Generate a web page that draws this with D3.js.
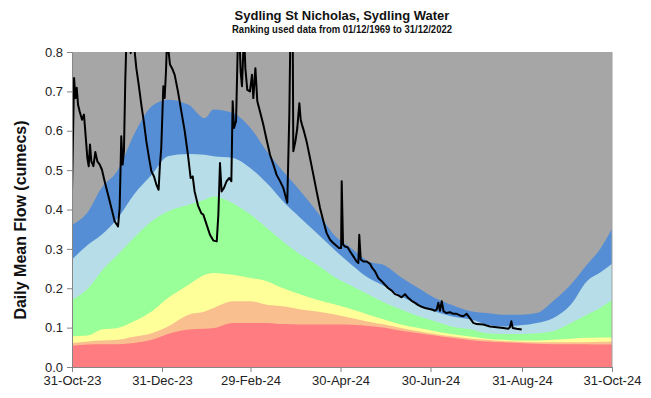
<!DOCTYPE html>
<html>
<head>
<meta charset="utf-8">
<script src="https://cdn.jsdelivr.net/npm/d3@7"></script>
<style>
  html, body { margin: 0; padding: 0; background: #fff; }
  svg { display: block; font-family: "Liberation Sans", Arial, sans-serif; }
</style>
</head>
<body>
<svg id="chart" width="651" height="398"></svg>
<script>
// ---------------- DATA ----------------
const startDate = "2023-10-31";
const endDate = "2024-10-31";
const title = "Sydling St Nicholas, Sydling Water";
const subtitle = "Ranking used data from 01/12/1969 to 31/12/2022";
const yLabel = "Daily Mean Flow (cumecs)";
const yTicks = [0, 0.1, 0.2, 0.3, 0.4, 0.5, 0.6, 0.7, 0.8];
const xTickDates = ["2023-10-31", "2023-12-31", "2024-02-29", "2024-04-30", "2024-06-30", "2024-08-31", "2024-10-31"];

// percentile band boundaries (days after start)
const bandDays = [0, 11, 20, 31, 42, 54, 65, 79, 90, 96, 109, 121, 132, 143, 155, 166, 179, 190, 201, 212, 223, 235, 246, 257, 271, 281, 292, 304, 315, 326, 338, 349, 358, 366];
const p05 = [0.054, 0.057, 0.058, 0.058, 0.061, 0.069, 0.084, 0.095, 0.097, 0.099, 0.112, 0.112, 0.112, 0.109, 0.108, 0.108, 0.108, 0.107, 0.104, 0.100, 0.092, 0.086, 0.080, 0.074, 0.068, 0.065, 0.063, 0.061, 0.059, 0.058, 0.058, 0.058, 0.057, 0.057];
const p13 = [0.061, 0.065, 0.067, 0.069, 0.077, 0.086, 0.103, 0.133, 0.141, 0.150, 0.167, 0.167, 0.158, 0.154, 0.146, 0.141, 0.133, 0.124, 0.115, 0.108, 0.099, 0.091, 0.084, 0.078, 0.072, 0.069, 0.066, 0.064, 0.063, 0.063, 0.063, 0.063, 0.064, 0.065];
const p28 = [0.078, 0.080, 0.095, 0.099, 0.116, 0.141, 0.175, 0.209, 0.234, 0.239, 0.234, 0.226, 0.218, 0.200, 0.184, 0.171, 0.158, 0.146, 0.133, 0.120, 0.108, 0.099, 0.091, 0.084, 0.077, 0.072, 0.069, 0.067, 0.067, 0.069, 0.072, 0.074, 0.075, 0.075];
const p72 = [0.171, 0.200, 0.243, 0.285, 0.328, 0.370, 0.395, 0.412, 0.425, 0.433, 0.416, 0.387, 0.353, 0.319, 0.285, 0.260, 0.226, 0.205, 0.184, 0.163, 0.146, 0.129, 0.116, 0.103, 0.095, 0.086, 0.084, 0.084, 0.086, 0.091, 0.112, 0.133, 0.150, 0.170];
const p87 = [0.273, 0.311, 0.336, 0.378, 0.438, 0.488, 0.535, 0.541, 0.539, 0.535, 0.531, 0.505, 0.467, 0.421, 0.378, 0.340, 0.294, 0.258, 0.226, 0.205, 0.180, 0.158, 0.141, 0.129, 0.120, 0.108, 0.103, 0.106, 0.112, 0.124, 0.158, 0.218, 0.240, 0.262];
const p95 = [0.361, 0.395, 0.455, 0.500, 0.590, 0.662, 0.679, 0.666, 0.632, 0.654, 0.645, 0.607, 0.548, 0.497, 0.446, 0.395, 0.330, 0.300, 0.268, 0.258, 0.228, 0.200, 0.175, 0.158, 0.141, 0.137, 0.133, 0.133, 0.137, 0.167, 0.209, 0.260, 0.300, 0.352];

// observed daily mean flow (days after start)
const flowDays = [0, 1.4, 2.3, 3.2, 4.1, 5.2, 6.8, 8.1, 9.0, 10.4, 11.3, 12.2, 13.1, 14.5, 15.8, 17.2, 18.8, 20.3, 22.1, 24.4, 26.7, 28.9, 31.2, 32.3, 33.4, 34.3, 35.2, 36.1, 37.1, 38.4, 39.8, 41.1, 42.5, 43.6, 45.2, 47.0, 48.8, 50.4, 52.2, 53.8, 55.6, 57.2, 58.7, 59.6, 60.5, 61.9, 62.8, 63.7, 64.6, 65.5, 66.4, 67.8, 69.6, 71.8, 74.1, 76.4, 78.6, 80.4, 81.8, 83.1, 85.4, 87.7, 89.0, 91.3, 93.5, 95.8, 98.1, 99.2, 100.3, 101.4, 103.0, 104.8, 106.6, 108.0, 108.9, 109.8, 111.2, 112.5, 113.4, 114.3, 115.2, 116.6, 117.5, 118.8, 120.6, 122.0, 122.9, 124.3, 125.6, 127.4, 129.7, 131.9, 134.2, 136.5, 138.7, 141.0, 143.2, 145.9, 147.3, 148.2, 149.6, 150.0, 151.4, 152.7, 154.1, 155.0, 155.9, 157.2, 159.0, 161.3, 163.6, 165.8, 168.1, 170.4, 172.6, 174.9, 177.1, 181.0, 182.4, 182.8, 183.7, 185.0, 186.8, 188.4, 190.7, 192.9, 194.1, 194.7, 195.7, 197.5, 199.7, 202.0, 203.6, 205.4, 207.6, 209.9, 212.1, 214.4, 216.7, 218.9, 221.2, 223.4, 225.7, 228.0, 230.2, 232.5, 234.7, 237.0, 239.3, 241.5, 243.8, 246.0, 247.2, 248.3, 249.4, 250.6, 251.9, 253.9, 256.2, 258.4, 260.7, 263.0, 265.2, 267.5, 269.7, 272.0, 274.3, 278.8, 283.3, 287.8, 292.3, 295.7, 296.8, 297.8, 298.7, 301.4, 304.8];
const flowValues = [0.446, 0.734, 0.683, 0.709, 0.666, 0.649, 0.628, 0.641, 0.599, 0.531, 0.510, 0.565, 0.522, 0.510, 0.546, 0.522, 0.514, 0.501, 0.472, 0.438, 0.404, 0.370, 0.357, 0.404, 0.586, 0.514, 0.548, 0.725, 0.860, 0.840, 0.797, 0.830, 0.800, 0.759, 0.717, 0.666, 0.620, 0.573, 0.531, 0.497, 0.484, 0.463, 0.450, 0.514, 0.556, 0.713, 0.683, 0.751, 0.850, 0.800, 0.768, 0.759, 0.742, 0.700, 0.649, 0.599, 0.539, 0.480, 0.484, 0.446, 0.410, 0.390, 0.387, 0.361, 0.336, 0.321, 0.319, 0.387, 0.518, 0.446, 0.455, 0.472, 0.480, 0.472, 0.675, 0.607, 0.624, 0.840, 0.850, 0.751, 0.713, 0.850, 0.759, 0.704, 0.700, 0.742, 0.683, 0.759, 0.675, 0.649, 0.615, 0.577, 0.539, 0.514, 0.488, 0.472, 0.455, 0.417, 0.641, 0.900, 0.850, 0.548, 0.573, 0.607, 0.670, 0.628, 0.615, 0.599, 0.573, 0.531, 0.488, 0.446, 0.404, 0.370, 0.340, 0.323, 0.315, 0.302, 0.302, 0.472, 0.311, 0.306, 0.304, 0.294, 0.281, 0.268, 0.264, 0.336, 0.273, 0.268, 0.268, 0.262, 0.251, 0.243, 0.226, 0.218, 0.209, 0.200, 0.194, 0.185, 0.182, 0.177, 0.185, 0.175, 0.168, 0.163, 0.157, 0.153, 0.150, 0.148, 0.146, 0.143, 0.146, 0.163, 0.143, 0.167, 0.141, 0.137, 0.139, 0.135, 0.135, 0.131, 0.129, 0.135, 0.124, 0.112, 0.109, 0.108, 0.103, 0.101, 0.099, 0.097, 0.101, 0.116, 0.099, 0.097, 0.095];

// band colours (top to bottom)
const bandColors = {
  above: "#A6A6A6",
  p95: "#558ED5",
  p87: "#B7DDE8",
  p72: "#99FF99",
  p28: "#FFFF99",
  p13: "#FABF8F",
  p05: "#FF7C80"
};

// ---------------- CHART ----------------
const svg = d3.select("#chart");
const margin = { left: 72, right: 39, top: 52, bottom: 31 };
const W = 651, H = 398;
const x0 = margin.left, x1 = W - margin.right, y0 = H - margin.bottom, y1 = margin.top;

const parse = d3.timeParse("%Y-%m-%d");
const start = parse(startDate);
const dayToDate = d => new Date(start.getTime() + d * 86400000);

const x = d3.scaleTime().domain([start, parse(endDate)]).range([x0, x1]);
const y = d3.scaleLinear().domain([0, 0.8]).range([y0, y1]);

svg.append("defs").append("clipPath").attr("id", "plotclip")
  .append("rect").attr("x", x0).attr("y", y1).attr("width", x1 - x0).attr("height", y0 - y1);

const plot = svg.append("g").attr("clip-path", "url(#plotclip)");

plot.append("rect").attr("x", x0).attr("y", y1).attr("width", x1 - x0).attr("height", y0 - y1)
  .attr("fill", bandColors.above);

const bandSets = [["p95", p95], ["p87", p87], ["p72", p72], ["p28", p28], ["p13", p13], ["p05", p05]];
bandSets.forEach(([name, vals]) => {
  const pts = bandDays.map((d, i) => ({ date: dayToDate(d), v: vals[i] }));
  const area = d3.area().x(p => x(p.date)).y0(y(0)).y1(p => y(p.v)).curve(d3.curveMonotoneX);
  plot.append("path").datum(pts).attr("d", area).attr("fill", bandColors[name]);
});

const flowPts = flowDays.map((d, i) => ({ date: dayToDate(d), v: flowValues[i] }));
plot.append("path").datum(flowPts)
  .attr("d", d3.line().x(p => x(p.date)).y(p => y(p.v)))
  .attr("fill", "none").attr("stroke", "#000").attr("stroke-width", 2)
  .attr("stroke-linejoin", "round");

// right border
svg.append("line").attr("x1", x1).attr("x2", x1).attr("y1", y1).attr("y2", y0)
  .attr("stroke", "#A0A0A0").attr("stroke-width", 1);

// axes
const axisColor = "#868686";
const yAxis = svg.append("g").attr("transform", `translate(${x0},0)`)
  .call(d3.axisLeft(y).tickValues(yTicks).tickFormat(d3.format(".1f")).tickSize(5).tickSizeOuter(0).tickPadding(4));
const xAxis = svg.append("g").attr("transform", `translate(0,${y0})`)
  .call(d3.axisBottom(x).tickValues(xTickDates.map(parse)).tickFormat(d3.timeFormat("%d-%b-%y")).tickSize(5).tickSizeOuter(0).tickPadding(4));

[yAxis, xAxis].forEach(a => {
  a.select(".domain").attr("stroke", axisColor);
  a.selectAll(".tick line").attr("stroke", axisColor);
  a.selectAll(".tick text").attr("fill", "#222").style("font-size", "13px")
    .style("font-family", "'Liberation Sans', Arial, sans-serif");
});

// titles
svg.append("text").attr("x", (x0 + x1) / 2).attr("y", 20).attr("text-anchor", "middle")
  .style("font-size", "13px").style("font-weight", "bold").attr("fill", "#111").text(title);
svg.append("text").attr("x", (x0 + x1) / 2).attr("y", 33).attr("text-anchor", "middle")
  .style("font-size", "11px").style("font-weight", "bold").attr("fill", "#111")
  .attr("textLength", 220).attr("lengthAdjust", "spacingAndGlyphs").text(subtitle);

svg.append("text").attr("transform", `translate(26,220) rotate(-90)`).attr("text-anchor", "middle")
  .style("font-size", "16px").style("font-weight", "bold").attr("fill", "#111").text(yLabel);
</script>
</body>
</html>
